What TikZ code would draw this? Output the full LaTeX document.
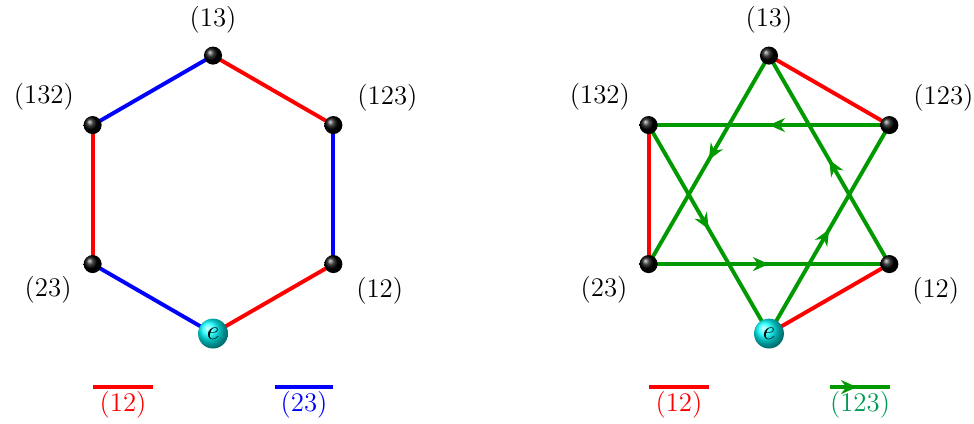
\documentclass[tikz,border=0pt]{standalone}
\usetikzlibrary{arrows.meta,positioning,decorations.markings}
\definecolor{gline}{RGB}{0,153,0}
\definecolor{gtext}{RGB}{0,155,85}

\begin{document}
\begin{tikzpicture}[
  every node/.style={font=\fontsize{11}{13}\selectfont},
  vertex/.style={circle, inner sep=0pt, minimum size=2.6mm, shading=ball, ball color=black},
  ident/.style={circle, inner sep=0pt, minimum size=4.3mm, shading=ball, ball color=cyan},
  edge/.style={line width=1.6pt},
  redge/.style={edge, red},
  bedge/.style={edge, blue},
  gedge/.style={
    edge, gline,
    postaction={decorate},
    decoration={markings, mark=at position #1 with {\arrow{Stealth[length=2.3mm, width=2mm]}}}
  },
  gedge/.default=0.5,
  legtext/.style={below, inner sep=1pt}
]
\useasboundingbox (-3.065,-3.30) rectangle (10.95,2.80);

% left graph: generators (12) and (23)
\coordinate (le) at (270:2);
\coordinate (l12) at (330:2);
\coordinate (l123) at (30:2);
\coordinate (l13) at (90:2);
\coordinate (l132) at (150:2);
\coordinate (l23) at (210:2);

\draw[redge] (le) -- (l12);
\draw[bedge] (l12) -- (l123);
\draw[redge] (l123) -- (l13);
\draw[bedge] (l13) -- (l132);
\draw[redge] (l132) -- (l23);
\draw[bedge] (l23) -- (le);

\node[ident] (ne) at (le) {$e$};
\node[vertex] (n12) at (l12) {};
\node[vertex] (n123) at (l123) {};
\node[vertex] (n13) at (l13) {};
\node[vertex] (n132) at (l132) {};
\node[vertex] (n23) at (l23) {};

\node (t13) at (90:2.52) {(13)};
\node (t123) at (29:2.87) {(123)};
\node (t12) at (-30:2.77) {(12)};
\node (t132) at (150:2.81) {(132)};
\node (t23) at (210:2.74) {(23)};

\coordinate (lr1) at (-1.73,-2.77);
\coordinate (lr2) at (-0.86,-2.77);
\coordinate (lb1) at (0.89,-2.77);
\coordinate (lb2) at (1.73,-2.77);
\draw[redge] (lr1) -- node[legtext, text=red] (lkey12) {(12)} (lr2);
\draw[bedge] (lb1) -- node[legtext, text=blue] (lkey23) {(23)} (lb2);

% right graph: generators (12) and (123)
\begin{scope}[xshift=8cm]
\coordinate (re) at (270:2);
\coordinate (r12) at (330:2);
\coordinate (r123) at (30:2);
\coordinate (r13) at (90:2);
\coordinate (r132) at (150:2);
\coordinate (r23) at (210:2);

\draw[redge] (re) -- (r12);
\draw[redge] (r13) -- (r123);
\draw[redge] (r132) -- (r23);

\draw[gedge] (re) -- (r123);
\draw[gedge] (r123) -- (r132);
\draw[gedge] (r132) -- (re);
\draw[gedge] (r23) -- (r12);
\draw[gedge] (r12) -- (r13);
\draw[gedge] (r13) -- (r23);

\node[ident] (me) at (re) {$e$};
\node[vertex] (m12) at (r12) {};
\node[vertex] (m123) at (r123) {};
\node[vertex] (m13) at (r13) {};
\node[vertex] (m132) at (r132) {};
\node[vertex] (m23) at (r23) {};

\node (u13) at (90:2.52) {(13)};
\node (u123) at (29:2.87) {(123)};
\node (u12) at (-30:2.77) {(12)};
\node (u132) at (150:2.81) {(132)};
\node (u23) at (210:2.74) {(23)};

\coordinate (rr1) at (-1.73,-2.77);
\coordinate (rr2) at (-0.86,-2.77);
\coordinate (rg1) at (0.88,-2.77);
\coordinate (rg2) at (1.74,-2.77);
\draw[redge] (rr1) -- node[legtext, text=red] (rkey12) {(12)} (rr2);
\draw[gedge=0.45] (rg1) -- node[legtext, text=gtext] (rkey123) {(123)} (rg2);
\end{scope}
\end{tikzpicture}
\end{document}
